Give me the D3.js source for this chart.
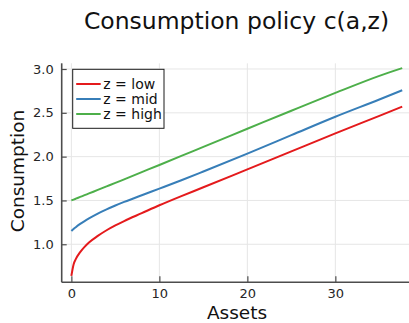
<!DOCTYPE html>
<html>
<head>
<meta charset="utf-8">
<script src="https://cdn.jsdelivr.net/npm/d3@7"></script>
<style>
  html, body { margin: 0; padding: 0; background: #fff; }
  svg { display: block; font-family: "DejaVu Sans", sans-serif; }
</style>
</head>
<body>
<svg id="chart" width="409" height="323"></svg>
<script>
// Asset grid and consumption policy for each productivity state
const assets   = [0, 0.25, 0.5, 1, 1.5, 2, 3, 4, 5, 6, 8, 10, 12.5, 15, 20, 25, 30, 35, 37.6];
const cLow     = [0.64, 0.77, 0.83, 0.91, 0.97, 1.02, 1.095, 1.16, 1.215, 1.265, 1.355, 1.445, 1.55, 1.65, 1.855, 2.06, 2.265, 2.465, 2.57];
const cMid     = [1.152, 1.175, 1.195, 1.232, 1.265, 1.295, 1.35, 1.398, 1.442, 1.483, 1.56, 1.635, 1.73, 1.83, 2.035, 2.245, 2.455, 2.652, 2.757];
const cHigh    = [1.5, 1.51, 1.52, 1.54, 1.56, 1.58, 1.62, 1.66, 1.70, 1.741, 1.823, 1.905, 2.008, 2.112, 2.318, 2.524, 2.727, 2.922, 3.01];
const seriesNames  = ["z = low", "z = mid", "z = high"];
const seriesColors = ["#e41a1c", "#377eb8", "#4daf4a"];
const xTicks = [0, 10, 20, 30];
const yTicks = [1.0, 1.5, 2.0, 2.5, 3.0];

const series = [cLow, cMid, cHigh].map((vals, i) => ({
  name: seriesNames[i],
  color: seriesColors[i],
  points: assets.map((a, j) => [a, vals[j]])
}));

const svg = d3.select("#chart");
const plot = { left: 61.7, right: 411.9, top: 63.3, bottom: 282.3 };

const x = d3.scaleLinear().domain([-1.1, 38.7]).range([plot.left, plot.right]);
const y = d3.scaleLinear().domain([0.566, 3.065]).range([plot.bottom, plot.top]);

// Grid
const grid = svg.append("g").attr("stroke", "#e6e6e6").attr("stroke-width", 1);
grid.selectAll(".gx").data(xTicks).join("line")
  .attr("x1", d => x(d)).attr("x2", d => x(d))
  .attr("y1", plot.top).attr("y2", plot.bottom);
grid.selectAll(".gy").data(yTicks).join("line")
  .attr("x1", plot.left).attr("x2", plot.right)
  .attr("y1", d => y(d)).attr("y2", d => y(d));

// Axes with inward ticks
const xAxis = svg.append("g")
  .attr("transform", `translate(0,${plot.bottom})`)
  .call(d3.axisBottom(x).tickValues(xTicks).tickSizeInner(-6).tickSizeOuter(0).tickPadding(6).tickFormat(d3.format("d")));
const yAxis = svg.append("g")
  .attr("transform", `translate(${plot.left},0)`)
  .call(d3.axisLeft(y).tickValues(yTicks).tickSizeInner(-5).tickSizeOuter(0).tickPadding(8).tickFormat(d3.format(".1f")));

[xAxis, yAxis].forEach(g => {
  g.select(".domain").attr("stroke", "#4d4d4d").attr("stroke-width", 1.6);
  g.selectAll(".tick line").attr("stroke", "#4d4d4d").attr("stroke-width", 1.2);
  g.selectAll(".tick text").attr("fill", "#262626").attr("font-size", 13)
    .attr("font-family", "DejaVu Sans, sans-serif");
});
xAxis.select(".domain").attr("d", `M${plot.left},0H${plot.right}`);
yAxis.select(".domain").attr("d", `M0,${plot.top}V${plot.bottom}`);

// Curves
const line = d3.line().x(d => x(d[0])).y(d => y(d[1])).curve(d3.curveMonotoneX);
svg.append("g").selectAll("path").data(series).join("path")
  .attr("fill", "none")
  .attr("stroke", d => d.color)
  .attr("stroke-width", 2)
  .attr("d", d => line(d.points));

// Legend
const lg = svg.append("g").attr("transform", "translate(72.7,69.3)");
lg.append("rect").attr("width", 91.3).attr("height", 59)
  .attr("fill", "#fff").attr("stroke", "#1a1a1a").attr("stroke-width", 1);
const rows = lg.selectAll("g.row").data(series).join("g")
  .attr("class", "row")
  .attr("transform", (d, i) => `translate(0,${14.7 + i * 15})`);
rows.append("line").attr("x1", 3.5).attr("x2", 28).attr("y1", 0).attr("y2", 0)
  .attr("stroke", d => d.color).attr("stroke-width", 2);
rows.append("text").attr("x", 30.6).attr("y", 0).attr("dy", "0.35em")
  .attr("font-size", 14).attr("fill", "#111").text(d => d.name);

// Titles
svg.append("text").attr("x", 236.5).attr("y", 29).attr("text-anchor", "middle")
  .attr("font-size", 23.5).attr("fill", "#111").text("Consumption policy c(a,z)");
svg.append("text").attr("x", 237).attr("y", 319).attr("text-anchor", "middle")
  .attr("font-size", 18.5).attr("fill", "#111").text("Assets");
svg.append("text").attr("transform", "translate(23.5,171) rotate(-90)").attr("text-anchor", "middle")
  .attr("font-size", 18.5).attr("fill", "#111").text("Consumption");
</script>
</body>
</html>
